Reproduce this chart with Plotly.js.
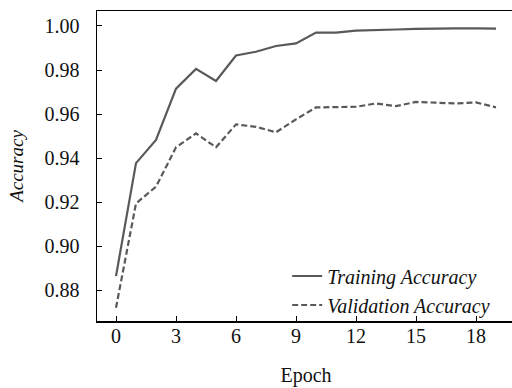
<!DOCTYPE html>
<html>
<head>
<meta charset="utf-8">
<script src="https://cdn.plot.ly/plotly-3.0.1.min.js"></script>
<style>
html,body{margin:0;padding:0;overflow:hidden;background:#fff;width:512px;height:388px;}
#chart{width:530px;height:388px;}
</style>
</head>
<body>
<div id="chart"></div>
<script>
const epochs = [0,1,2,3,4,5,6,7,8,9,10,11,12,13,14,15,16,17,18,19];
const trainingAccuracy = [0.8864,0.9377,0.9482,0.9715,0.9805,0.9750,0.9866,0.9883,0.9909,0.9921,0.9970,0.9970,0.9979,0.9983,0.9984,0.9987,0.9989,0.9989,0.9989,0.9988];
const validationAccuracy = [0.8720,0.9194,0.9270,0.9449,0.9512,0.9449,0.9553,0.9542,0.9517,0.9576,0.9630,0.9630,0.9633,0.9648,0.9636,0.9655,0.9652,0.9648,0.9653,0.9630];
const xTicks = [0,3,6,9,12,15,18];
const yTicks = [0.88,0.90,0.92,0.94,0.96,0.98,1.00];

const lineColor = '#595959';
const fam = 'Liberation Serif, Times New Roman, serif';

const traces = [
  {x: epochs, y: trainingAccuracy, mode: 'lines', name: 'Training Accuracy',
   line: {color: lineColor, width: 2.2}},
  {x: epochs, y: validationAccuracy, mode: 'lines', name: 'Validation Accuracy',
   line: {color: lineColor, width: 2.2, dash: '6px,3px'}}
];

const layout = {
  width: 530, height: 388,
  margin: {l: 97, r: 15, t: 11, b: 67},
  paper_bgcolor: '#fff', plot_bgcolor: '#fff',
  font: {family: fam, size: 20, color: '#111'},
  showlegend: true,
  legend: {x: 0.455, y: 0.208, xanchor: 'left', yanchor: 'top', bgcolor: 'rgba(0,0,0,0)',
    font: {family: fam, size: 20, color: '#111', style: 'italic'}, tracegroupgap: 0},
  xaxis: {
    range: [-0.95, 19.95], tickvals: xTicks, ticktext: xTicks.map(String),
    ticks: 'inside', ticklen: 5, tickwidth: 1, tickcolor: '#000',
    tickfont: {family: fam, size: 20, color: '#111'},
    showline: true, linecolor: '#000', linewidth: 1.5, mirror: true,
    showgrid: false, zeroline: false, ticklabelstandoff: -4,
    title: {text: 'Epoch', font: {family: fam, size: 20, color: '#111'}, standoff: 22}
  },
  yaxis: {
    range: [0.866, 1.0068], tickvals: yTicks, ticktext: yTicks.map(v => v.toFixed(2)),
    ticks: 'inside', ticklen: 5, tickwidth: 1, tickcolor: '#000',
    tickfont: {family: fam, size: 20, color: '#111'},
    showline: true, linecolor: '#000', linewidth: 1.5, mirror: true,
    showgrid: false, zeroline: false, ticklabelstandoff: 12,
    title: {text: '<i>Accuracy</i>', font: {family: fam, size: 19, color: '#111'}, standoff: 16}
  }
};

Plotly.newPlot('chart', traces, layout, {staticPlot: true, displayModeBar: false});
</script>
</body>
</html>
